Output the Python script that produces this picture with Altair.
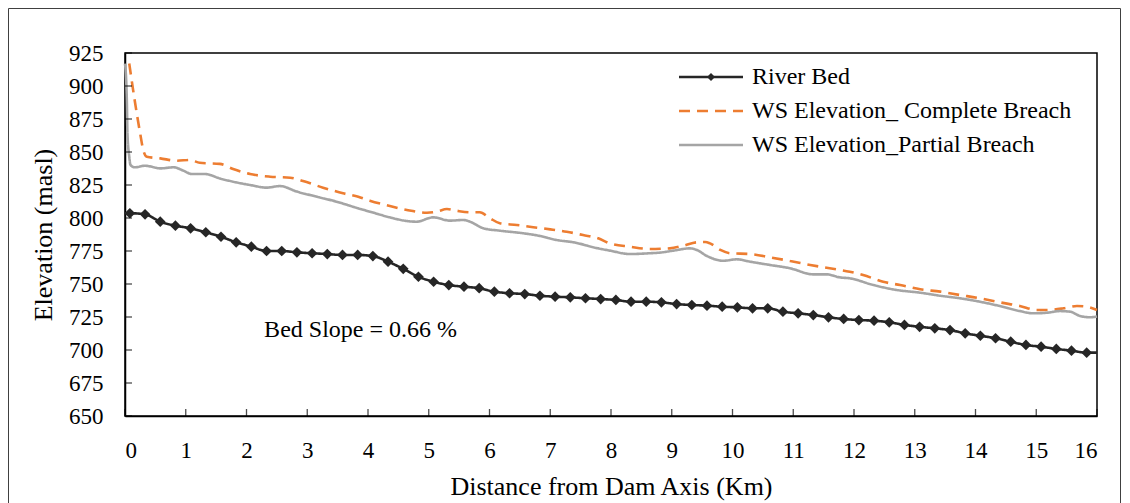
import altair as alt
import pandas as pd

FONT = "Liberation Serif"

series_names = ["River Bed", "WS Elevation_ Complete Breach", "WS Elevation_Partial Breach"]
series_colors = ["#262626", "#ED7D31", "#A5A5A5"]
series_dash = [[1, 0], [11, 7], [1, 0]]

bed_marker_km = [0.08, 0.33, 0.58, 0.83, 1.08, 1.33, 1.58, 1.83, 2.08, 2.33, 2.58, 2.83, 3.08, 3.33, 3.58, 3.83,
                 4.08, 4.33, 4.58, 4.83, 5.08, 5.33, 5.58, 5.83, 6.08, 6.33, 6.58, 6.83, 7.08, 7.33, 7.58, 7.83,
                 8.08, 8.33, 8.58, 8.83, 9.08, 9.33, 9.58, 9.83, 10.08, 10.33, 10.58, 10.83, 11.08, 11.33, 11.58, 11.83,
                 12.08, 12.33, 12.58, 12.83, 13.08, 13.33, 13.58, 13.83, 14.08, 14.33, 14.58, 14.83, 15.08, 15.33, 15.58, 15.83]
bed_marker_elev = [803.6, 802.8, 797.2, 794.2, 792.2, 789.2, 785.8, 781.6, 778.3, 775.0, 775.0, 774.0, 773.3, 772.7, 772.0, 772.0,
                   771.2, 766.9, 761.5, 755.5, 751.7, 749.2, 748.0, 746.8, 744.2, 743.0, 742.4, 741.1, 740.4, 739.9, 739.2, 738.6,
                   737.9, 736.6, 736.6, 736.1, 734.8, 734.1, 733.6, 732.8, 732.3, 731.6, 731.6, 729.0, 727.8, 726.5, 724.8, 723.5,
                   722.7, 722.2, 721.0, 719.0, 717.6, 716.4, 715.1, 712.6, 710.8, 708.9, 706.3, 703.8, 702.5, 700.8, 699.5, 698.0]
bed_start = [0.0, 803.6]
bed_end = [16.0, 698.0]

complete_km = [0.07, 0.16, 0.25, 0.30, 0.36, 0.58, 0.85, 1.07, 1.23, 1.56, 1.78, 2.06, 2.39, 2.72, 2.93,
               3.26, 3.59, 3.84, 4.03, 4.36, 4.64, 4.97, 5.13, 5.30, 5.46, 5.68, 5.84, 6.01, 6.17, 6.45,
               6.72, 7.00, 7.27, 7.54, 7.79, 7.98, 8.31, 8.64, 8.97, 9.19, 9.41, 9.55, 9.63, 9.80, 9.96,
               10.29, 10.62, 10.95, 11.28, 11.60, 11.93, 12.15, 12.48, 12.76, 13.09, 13.42, 13.74, 14.07, 14.40, 14.73,
               15.01, 15.17, 15.45, 15.67, 15.83, 16.00]
complete_elev = [917.0, 889.0, 864.0, 851.5, 846.4, 845.2, 843.4, 844.0, 841.8, 841.0, 837.1, 833.3, 831.3, 830.5, 828.0,
                 823.0, 818.7, 816.1, 813.1, 809.1, 806.1, 804.0, 804.8, 806.8, 805.5, 804.3, 804.3, 799.8, 796.0, 794.7,
                 793.0, 791.4, 789.6, 787.1, 784.6, 780.8, 778.3, 776.5, 777.0, 779.0, 781.6, 781.8, 780.8, 775.8, 773.3,
                 772.7, 770.2, 767.4, 764.4, 761.9, 759.3, 756.8, 751.7, 749.2, 746.0, 744.2, 741.7, 739.2, 736.1, 733.3,
                 730.3, 730.3, 731.6, 733.3, 732.8, 730.3]

partial_km = [0.00, 0.03, 0.04, 0.07, 0.09, 0.16, 0.33, 0.58, 0.80, 0.96, 1.10, 1.32, 1.56, 1.78, 2.06,
              2.33, 2.55, 2.83, 3.16, 3.48, 3.84, 4.03, 4.36, 4.64, 4.80, 5.07, 5.35, 5.57, 5.68, 5.90,
              6.17, 6.56, 6.83, 7.11, 7.38, 7.79, 7.98, 8.31, 8.64, 8.81, 9.03, 9.30, 9.41, 9.58, 9.85,
              10.07, 10.29, 10.62, 10.95, 11.33, 11.55, 11.77, 11.93, 12.32, 12.70, 13.09, 13.42, 13.74, 14.07, 14.40,
              14.73, 14.95, 15.17, 15.39, 15.56, 15.72, 15.88, 16.00]
partial_elev = [917.0, 889.4, 864.4, 846.4, 840.2, 838.4, 839.6, 837.6, 838.4, 835.9, 833.3, 833.3, 830.0, 827.5, 825.0,
                823.0, 824.2, 820.0, 816.1, 812.4, 807.3, 804.8, 800.5, 797.7, 797.2, 800.5, 798.0, 798.5, 797.2, 792.2,
                790.4, 788.4, 786.4, 783.3, 781.6, 777.0, 775.3, 772.7, 773.3, 773.8, 775.3, 777.0, 775.8, 771.2, 767.6,
                768.7, 766.9, 764.4, 761.9, 757.3, 757.3, 755.0, 754.3, 749.2, 745.5, 743.4, 741.1, 739.2, 736.6, 733.3,
                729.5, 727.8, 728.2, 729.5, 729.0, 725.8, 724.8, 725.3]

x_ticks = [0, 1, 2, 3, 4, 5, 6, 7, 8, 9, 10, 11, 12, 13, 14, 15, 16]
y_ticks = [650, 675, 700, 725, 750, 775, 800, 825, 850, 875, 900, 925]

annotation_text = "Bed Slope = 0.66 %"
annotation_pos = [2.29, 709.8]

# ---- tables ----
rows = []
bed_line_km = [bed_start[0]] + bed_marker_km + [bed_end[0]]
bed_line_elev = [bed_start[1]] + bed_marker_elev + [bed_end[1]]
for k, e in zip(bed_line_km, bed_line_elev):
    rows.append({"series": series_names[0], "km": k, "elev": e, "order": 0})
for k, e in zip(complete_km, complete_elev):
    rows.append({"series": series_names[1], "km": k, "elev": e, "order": 1})
for k, e in zip(partial_km, partial_elev):
    rows.append({"series": series_names[2], "km": k, "elev": e, "order": 2})
lines_df = pd.DataFrame(rows)

markers_df = pd.DataFrame({"series": series_names[0], "km": bed_marker_km, "elev": bed_marker_elev})
xt_df = pd.DataFrame({"km": x_ticks})
yt_df = pd.DataFrame({"elev": y_ticks})

W, H = 972, 363

x_scale = alt.Scale(domain=[0, 16], nice=False)
y_scale = alt.Scale(domain=[650, 925], nice=False)

x_axis = alt.Axis(values=x_ticks, format="d", labelOverlap=False, ticks=False, grid=False,
                  labelFont=FONT, labelFontSize=23, labelColor="black",
                  labelPadding=23, domainColor="black", domainWidth=1.5,
                  title="Distance from Dam Axis (Km)", titleFont=FONT, titleFontSize=26, titleFontWeight="normal",
                  titleColor="black", titleX=W / 2, titleY=70, titleBaseline="middle", titleAlign="center")
y_axis = alt.Axis(values=y_ticks, format="d", labelOverlap=False, ticks=False, grid=False,
                  labelFont=FONT, labelFontSize=23, labelColor="black",
                  labelPadding=22, domainColor="black", domainWidth=1.5,
                  title="Elevation (masl)", titleFont=FONT, titleFontSize=26, titleFontWeight="normal",
                  titleColor="black", titleX=-82, titleY=H / 2, titleBaseline="middle", titleAlign="center")

legend_common = dict(orient="none", legendX=574, legendY=12, title=None, padding=0,
                     symbolSize=64, symbolStrokeWidth=2.5, labelFont=FONT, labelFontSize=24,
                     labelColor="black", labelOffset=29, rowPadding=10, labelLimit=500)

line_legend = alt.Legend(symbolType="M-8,0H8", **legend_common)

lines = alt.Chart(lines_df).mark_line(strokeWidth=2.6, interpolate="monotone").encode(
    x=alt.X("km:Q", scale=x_scale, axis=x_axis),
    y=alt.Y("elev:Q", scale=y_scale, axis=y_axis),
    color=alt.Color("series:N", scale=alt.Scale(domain=series_names, range=series_colors), legend=line_legend),
    strokeDash=alt.StrokeDash("series:N", scale=alt.Scale(domain=series_names, range=series_dash), legend=line_legend),
    order="order:Q",
)

marker_legend = alt.Legend(symbolFillColor="#262626", symbolStrokeColor="transparent", labelOpacity=0,
                           **legend_common)
markers = alt.Chart(markers_df).mark_point(filled=True, size=115, opacity=1, color="#262626").encode(
    x=alt.X("km:Q", axis=x_axis),
    y=alt.Y("elev:Q", axis=y_axis),
    shape=alt.Shape("series:N", scale=alt.Scale(domain=[series_names[0]], range=["diamond"]), legend=marker_legend),
)

xticks = alt.Chart(xt_df).mark_tick(orient="vertical", size=7, thickness=1.3, color="black", yOffset=-3.5).encode(
    x=alt.X("km:Q", axis=x_axis), y=alt.YDatum(650, axis=y_axis)
)
yticks = alt.Chart(yt_df).mark_tick(orient="horizontal", size=7, thickness=1.3, color="black", xOffset=3.5).encode(
    y=alt.Y("elev:Q", axis=y_axis), x=alt.XDatum(0, axis=x_axis)
)

annot = alt.Chart(pd.DataFrame({"t": [annotation_text]})).mark_text(
    font=FONT, fontSize=24, color="black", align="left", baseline="alphabetic"
).encode(x=alt.XDatum(annotation_pos[0], axis=x_axis), y=alt.YDatum(annotation_pos[1], axis=y_axis), text="t:N")

# thin picture border round the whole figure
frame = alt.Chart(pd.DataFrame({"f": [0]})).mark_rect(
    fillOpacity=0, stroke="#404040", strokeWidth=1, clip=False
).encode(x=alt.value(-116.5), x2=alt.value(995.5), y=alt.value(-44.5), y2=alt.value(700))

chart = alt.layer(frame, lines, markers, xticks, yticks, annot).properties(
    width=W, height=H,
    padding={"left": 117, "top": 45, "right": 25, "bottom": 87},
    autosize=alt.AutoSizeParams(type="none"),
    background="white",
).configure_view(stroke="black", strokeWidth=1.5).configure_axis(labelOverlap=False)

chart.save("out.html", embed_options={"renderer": "svg", "actions": False})
